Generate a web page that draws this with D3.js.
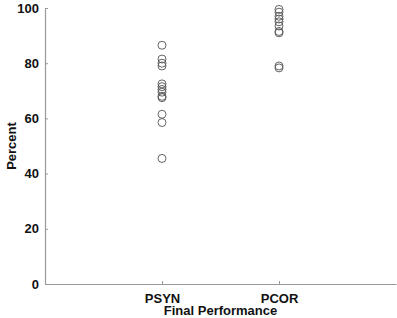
<!DOCTYPE html>
<html>
<head>
<meta charset="utf-8">
<script src="https://cdn.jsdelivr.net/npm/d3@7"></script>
<style>
  body { margin: 0; background: #fff; }
  text { font-family: "Liberation Sans", Arial, sans-serif; font-weight: bold; }
</style>
</head>
<body>
<svg></svg>
<script>
const [svgWidth, svgHeight] = [397, 318];
const categories = ['PSYN', 'PCOR'];
const psyn = [86.5, 81.5, 80, 79, 72.5, 71.5, 70.5, 69.5, 68, 67.5, 61.5, 58.5, 45.5];
const pcor = [99.5, 98.5, 97, 96, 95, 93.5, 91.5, 91, 79, 78.3];
const yTicks = [0, 20, 40, 60, 80, 100];

const svg = d3.select('svg')
  .attr('width', svgWidth)
  .attr('height', svgHeight);

const x = d3.scaleLinear().domain([0, 3]).range([45, 396]);
const y = d3.scaleLinear().domain([0, 100]).range([284, 8]);
const axisColor = '#999';

// y axis, ticks pointing inward
const yAxis = svg.append('g')
  .attr('transform', `translate(${x(0)}, 0)`)
  .call(d3.axisLeft(y).tickValues(yTicks).tickSizeInner(-3).tickSizeOuter(0).tickPadding(6));
// x axis
const xAxis = svg.append('g')
  .attr('transform', `translate(0, ${y(0)})`)
  .call(d3.axisBottom(x).tickValues([1, 2]).tickFormat(d => categories[d - 1])
    .tickSizeInner(-3).tickSizeOuter(0).tickPadding(10));

[yAxis, xAxis].forEach(g => {
  g.select('.domain').attr('stroke', axisColor).attr('stroke-width', 1.2);
  g.selectAll('.tick line').attr('stroke', axisColor);
  g.selectAll('.tick text').attr('fill', '#111').style('font-size', '13px')
    .style('font-family', '"Liberation Sans", Arial, sans-serif').style('font-weight', 'bold');
});

const series = [psyn, pcor];
series.forEach((vals, i) => {
  svg.append('g').selectAll('circle')
    .data(vals)
    .enter()
    .append('circle')
    .attr('cx', x(i + 1))
    .attr('cy', d => y(d))
    .attr('r', 4)
    .attr('fill', 'none')
    .attr('stroke', '#555')
    .attr('stroke-width', 0.9);
});

svg.append('text')
  .attr('x', (x(0) + x(3)) / 2 + 0)
  .attr('y', 315)
  .attr('text-anchor', 'middle')
  .style('font-size', '13px')
  .attr('fill', '#111')
  .text('Final Performance');

svg.append('text')
  .attr('transform', `translate(11, ${y(50)}) rotate(-90)`)
  .attr('text-anchor', 'middle')
  .attr('dominant-baseline', 'central')
  .style('font-size', '13px')
  .attr('fill', '#111')
  .text('Percent');
</script>
</body>
</html>
